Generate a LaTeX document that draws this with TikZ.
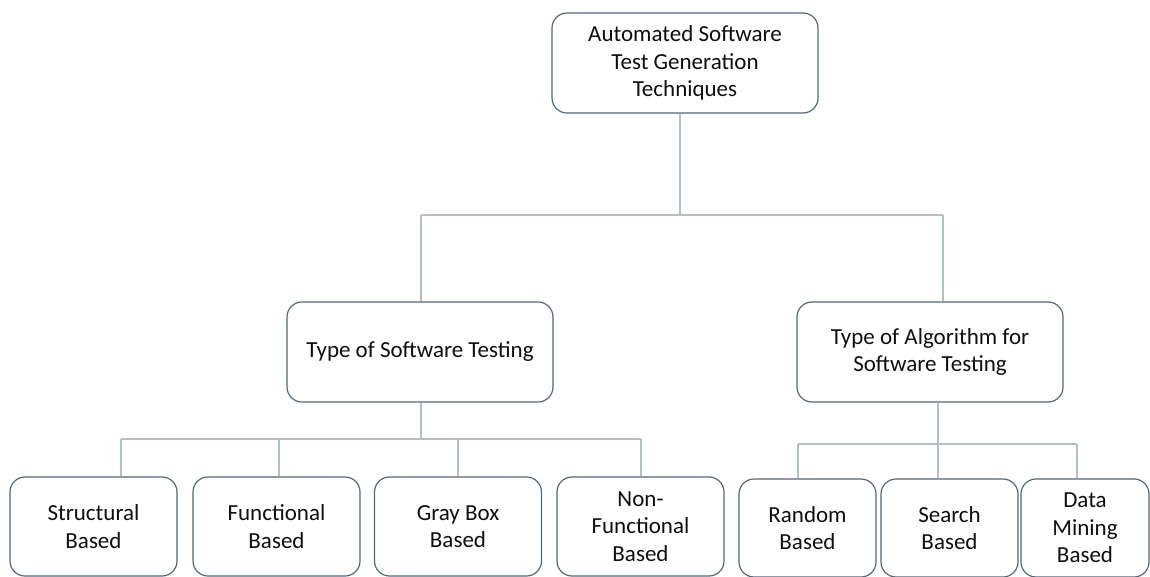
\documentclass[tikz,border=0pt]{standalone}
\usepackage{fontspec}
\setmainfont{Carlito}
\definecolor{boxline}{RGB}{84,104,122}
\definecolor{connline}{RGB}{178,192,202}
\definecolor{txt}{RGB}{15,15,15}
\begin{document}
\begin{tikzpicture}[x=1pt,y=-1pt,
  box/.style={draw=boxline,line width=1.2pt,rounded corners=15pt,fill=white,
    align=center,text=txt,inner sep=0pt,
    font=\fontsize{23}{27.5}\selectfont},
  bigbox/.style={box,minimum width=266pt,minimum height=100pt},
  leafbox/.style={box,minimum width=167pt,minimum height=99pt},
  algbox/.style={box,minimum width=137pt,minimum height=98pt},
  conn/.style={draw=connline,line width=1.2pt}]
\useasboundingbox (0,0) rectangle (1150,577);
\fill[white] (0,0) rectangle (1150,577);
% nodes
\node[bigbox] (top) at (685,63) {Automated Software\\Test Generation\\Techniques};
\node[bigbox] (lmid) at (420,352) {Type of Software Testing};
\node[bigbox] (rmid) at (930,352) {Type of Algorithm for\\Software Testing};
\node[leafbox] (s1) at (93.5,526.5) {Structural\\Based};
\node[leafbox] (s2) at (276.5,526.5) {Functional\\Based};
\node[leafbox] (s3) at (458,526.5) {Gray Box\\Based};
\node[leafbox] (s4) at (640.5,526.5) {Non-\\Functional\\Based};
\node[algbox] (a1) at (807.5,528) {Random\\Based};
\node[algbox] (a2) at (949.5,528) {Search\\Based};
\node[algbox,minimum width=128pt] (a3) at (1085,528) {Data\\Mining\\Based};
% junction coordinates
\coordinate (t1) at (680,215);
\coordinate (t2) at (943,215);
\coordinate (tl) at (421,215);
\coordinate (b1) at (421,439);
\coordinate (bs1) at (121,439);
\coordinate (bs2) at (279,439);
\coordinate (bs3) at (458,439);
\coordinate (bs4) at (641,439);
\coordinate (r1) at (938,444);
\coordinate (ra1) at (798,444);
\coordinate (ra2) at (938,444);
\coordinate (ra3) at (1077,444);
% connectors
\draw[conn] (t1 |- top.south) -- (t1);
\draw[conn] (tl) -- (t2);
\draw[conn] (tl) -- (tl |- lmid.north);
\draw[conn] (t2) -- (t2 |- rmid.north);
\draw[conn] (b1 |- lmid.south) -- (b1);
\draw[conn] (bs1) -- (bs4);
\draw[conn] (bs1) -- (bs1 |- s1.north);
\draw[conn] (bs2) -- (bs2 |- s2.north);
\draw[conn] (bs3) -- (bs3 |- s3.north);
\draw[conn] (bs4) -- (bs4 |- s4.north);
\draw[conn] (r1 |- rmid.south) -- (r1);
\draw[conn] (ra1) -- (ra3);
\draw[conn] (ra1) -- (ra1 |- a1.north);
\draw[conn] (ra2) -- (ra2 |- a2.north);
\draw[conn] (ra3) -- (ra3 |- a3.north);
\end{tikzpicture}
\end{document}
